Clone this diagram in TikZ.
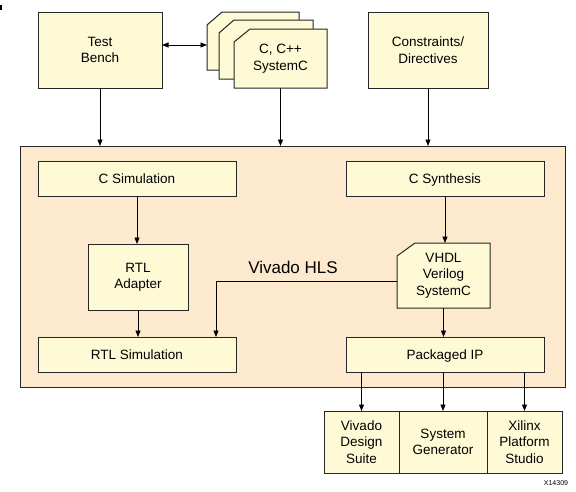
\documentclass[tikz,border=0pt]{standalone}
\usepackage{fontspec}
\setmainfont{Liberation Sans}
\usetikzlibrary{arrows.meta}
\definecolor{boxfill}{RGB}{255,250,214}
\definecolor{hlsfill}{RGB}{253,234,206}
\newcommand\docoutline[2]{%
  \filldraw[docline] (#1.south west) -- ([yshift=-13pt]#1.north west)
    -- ([xshift=#2]#1.north west) -- (#1.north east) -- (#1.south east) -- cycle;}

\begin{document}
\begin{tikzpicture}[x=1pt,y=-1pt,
    blk/.style={draw=black!85,line width=1pt,fill=boxfill,inner sep=0pt,
      outer sep=0pt,align=center,font=\fontsize{13.5}{16.5}\selectfont},
    oneline/.style={blk,text height=11pt,text depth=2pt},
    docblk/.style={inner sep=0pt,outer sep=0pt},
    doctext/.style={align=center,font=\fontsize{13.5}{16.5}\selectfont},
    docline/.style={draw=black!85,line width=1pt,fill=boxfill,line join=miter},
    arr/.style={line width=0.8pt,-{Triangle[length=6.5pt,width=5pt]}},
    dblarr/.style={line width=0.8pt,
      {Triangle[length=6.5pt,width=5pt]}-{Triangle[length=6.5pt,width=5pt]}}]
    \useasboundingbox (0,0) rectangle (576,491);
    \fill (0,5) rectangle (1.8,10);
    \node[blk,minimum width=124pt,minimum height=76pt] (tb) at (100,50)
      {Test\\Bench};
    \node[docblk,minimum width=92pt,minimum height=58pt] (back) at (253,41) {};
    \docoutline{back}{15pt}
    \node[docblk,minimum width=94pt,minimum height=59pt] (mid) at (266,49.5) {};
    \docoutline{mid}{15pt}
    \node[docblk,minimum width=93pt,minimum height=59pt] (src) at (280.5,58.5) {};
    \docoutline{src}{16pt}
    \node[doctext] (srctext) at (280.5,58.5) {C, C++\\SystemC};
    \node[blk,minimum width=120pt,minimum height=76pt] (cons) at (428,50)
      {Constraints/\\Directives};
    \begin{scope}
      \node[draw=black!85,line width=1pt,fill=hlsfill,outer sep=0pt,
        minimum width=545pt,minimum height=241pt] (hls) at (292.5,266.5) {};
      \node[font=\fontsize{17}{20}\selectfont] (hlsname) at (293,267)
        {Vivado HLS};
      \node[oneline,minimum width=198pt,minimum height=35pt] (csim) at (137,178.5)
        {C Simulation};
      \node[oneline,minimum width=198pt,minimum height=35pt] (csyn) at (445,178.5)
        {C Synthesis};
      \node[blk,minimum width=100pt,minimum height=66pt] (adapt) at (138,277)
        {RTL\\Adapter};
      \node[docblk,minimum width=93pt,minimum height=65pt] (hdl) at (443.5,275.5) {};
      \docoutline{hdl}{18pt}
      \node[doctext] (hdltext) at (443.5,275.5) {VHDL\\Verilog\\SystemC};
      \node[oneline,minimum width=198pt,minimum height=35pt] (rtlsim) at (137,354.5)
        {RTL Simulation};
      \node[oneline,minimum width=198pt,minimum height=35pt] (pip) at (445,354.5)
        {Packaged IP};
    \end{scope}
    \node[blk,minimum width=75pt,minimum height=62pt] (vds) at (361.5,442)
      {Vivado\\Design\\Suite};
    \node[blk,minimum width=88pt,minimum height=62pt] (sysgen) at (443,442)
      {System\\Generator};
    \node[blk,minimum width=75pt,minimum height=62pt] (xps) at (524.5,442)
      {Xilinx\\Platform\\Studio};
    \node[font=\fontsize{7}{8}\selectfont] (fig) at (556,483) {X14309};
    \draw[dblarr] ([yshift=5pt]tb.east) -- ([yshift=5pt]tb.east -| back.west);
    \draw[arr] (tb.south) -- (tb.south |- hls.north);
    \draw[arr] (src.south) -- (src.south |- hls.north);
    \draw[arr] (cons.south) -- (cons.south |- hls.north);
    \draw[arr] (csim.south) -- (csim.south |- adapt.north);
    \draw[arr] (adapt.south) -- (adapt.south |- rtlsim.north);
    \draw[arr] (csyn.south) -- (csyn.south |- hdl.north);
    \draw[arr] (hdl.south) -- (hdl.south |- pip.north);
    \draw[arr] ([yshift=-5.5pt]hdl.west) -| ([xshift=79pt]rtlsim.north);
    \draw[arr] (pip.south -| vds.north) -- (vds.north);
    \draw[arr] (pip.south -| sysgen.north) -- (sysgen.north);
    \draw[arr] (pip.south -| xps.north) -- (xps.north);
  \end{tikzpicture}
\end{document}
